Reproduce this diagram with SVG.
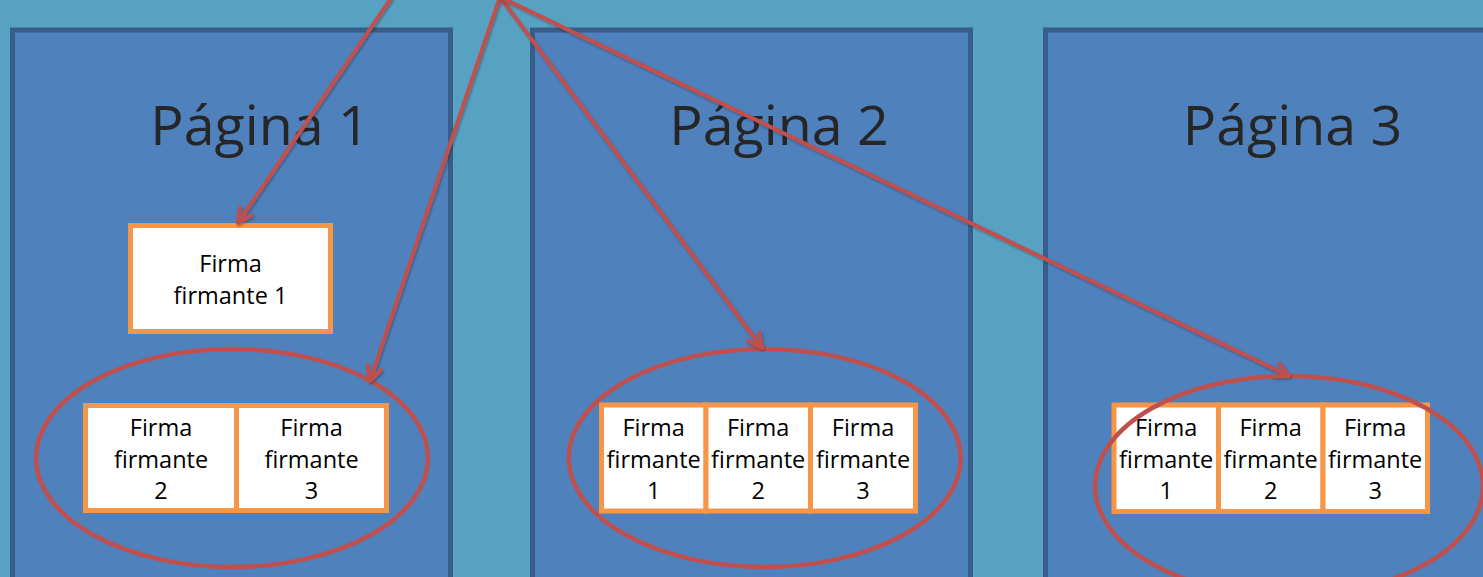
<svg xmlns="http://www.w3.org/2000/svg" width="1483" height="577" viewBox="0 0 1483 577">
  <style>
    .page { fill: #4f81bd; stroke: #385d8a; stroke-width: 5; }
    .ptitle { font-family: "Open Sans", "Liberation Sans", sans-serif; font-size: 55.5px; fill: #262626; text-anchor: middle; }
    .box { fill: #ffffff; stroke: #f79646; stroke-width: 5; }
    .btxt { font-family: "Open Sans", "Liberation Sans", sans-serif; font-size: 23.5px; fill: #000000; text-anchor: middle; }
    .ring { fill: none; stroke: #c0504d; stroke-width: 4.5; }
    .conn { fill: none; stroke: #c0504d; stroke-width: 4; marker-end: url(#arr); filter: url(#sh); }
  </style>
  <defs>
    <marker id="arr" markerUnits="userSpaceOnUse" viewBox="0 0 18 18" refX="16" refY="9" markerWidth="18" markerHeight="18" orient="auto">
      <path d="M2,2 L16,9 L2,16" fill="none" stroke="#c0504d" stroke-width="4" stroke-linejoin="miter" stroke-linecap="round"/>
    </marker>
    <filter id="sh" filterUnits="userSpaceOnUse" x="0" y="-10" width="1483" height="600">
      <feDropShadow dx="1" dy="1.5" stdDeviation="1" flood-color="#000" flood-opacity="0.3"/>
    </filter>
  </defs>
  <rect x="0" y="0" width="1483" height="577" fill="#57a2c3"/>

  <g id="page1">
    <rect class="page" x="12.5" y="30" width="438" height="570"/>
    <text class="ptitle" x="260" y="145">Página 1</text>
  </g>
  <g id="page2">
    <rect class="page" x="532.5" y="30" width="438" height="570"/>
    <text class="ptitle" x="779" y="145">Página 2</text>
  </g>
  <g id="page3">
    <rect class="page" x="1045.5" y="30" width="470" height="570"/>
    <text class="ptitle" x="1292.5" y="145">Página 3</text>
  </g>

  <g id="p1-firma1">
    <rect class="box" x="130.5" y="225.5" width="200" height="106"/>
    <text class="btxt" x="230.5" y="272">Firma</text>
    <text class="btxt" x="230.5" y="304">firmante 1</text>
  </g>
  <g id="p1-firma2">
    <rect class="box" x="85.5" y="405.5" width="151" height="105"/>
    <text class="btxt" x="161" y="436">Firma</text>
    <text class="btxt" x="161" y="467.5">firmante</text>
    <text class="btxt" x="161" y="499">2</text>
  </g>
  <g id="p1-firma3">
    <rect class="box" x="236.5" y="405.5" width="150" height="105"/>
    <text class="btxt" x="311.5" y="436">Firma</text>
    <text class="btxt" x="311.5" y="467.5">firmante</text>
    <text class="btxt" x="311.5" y="499">3</text>
  </g>

  <g id="p2-firma1">
    <rect class="box" x="601.5" y="405" width="104.5" height="106"/>
    <text class="btxt" x="653.7" y="436">Firma</text>
    <text class="btxt" x="653.7" y="467.5">firmante</text>
    <text class="btxt" x="653.7" y="499">1</text>
  </g>
  <g id="p2-firma2">
    <rect class="box" x="706" y="405" width="104.5" height="106"/>
    <text class="btxt" x="758.2" y="436">Firma</text>
    <text class="btxt" x="758.2" y="467.5">firmante</text>
    <text class="btxt" x="758.2" y="499">2</text>
  </g>
  <g id="p2-firma3">
    <rect class="box" x="810.5" y="405" width="105" height="106"/>
    <text class="btxt" x="863" y="436">Firma</text>
    <text class="btxt" x="863" y="467.5">firmante</text>
    <text class="btxt" x="863" y="499">3</text>
  </g>

  <g id="p3-firma1">
    <rect class="box" x="1114" y="405" width="104.5" height="106.5"/>
    <text class="btxt" x="1166.2" y="436">Firma</text>
    <text class="btxt" x="1166.2" y="467.5">firmante</text>
    <text class="btxt" x="1166.2" y="499">1</text>
  </g>
  <g id="p3-firma2">
    <rect class="box" x="1218.5" y="405" width="104.5" height="106.5"/>
    <text class="btxt" x="1270.7" y="436">Firma</text>
    <text class="btxt" x="1270.7" y="467.5">firmante</text>
    <text class="btxt" x="1270.7" y="499">2</text>
  </g>
  <g id="p3-firma3">
    <rect class="box" x="1323" y="405" width="104.5" height="106.5"/>
    <text class="btxt" x="1375.2" y="436">Firma</text>
    <text class="btxt" x="1375.2" y="467.5">firmante</text>
    <text class="btxt" x="1375.2" y="499">3</text>
  </g>

  <g id="group1"><ellipse class="ring" cx="232" cy="458" rx="196" ry="109"/></g>
  <g id="group2"><ellipse class="ring" cx="764.7" cy="458" rx="196" ry="109"/></g>
  <g id="group3"><ellipse class="ring" cx="1289" cy="486" rx="194" ry="110"/></g>

  <g id="connectors">
    <line class="conn" x1="392" y1="-3" x2="238" y2="223"/>
    <line class="conn" x1="500" y1="-3" x2="370" y2="381"/>
    <line class="conn" x1="500" y1="-3" x2="762" y2="348"/>
    <line class="conn" x1="500" y1="-3" x2="1289" y2="376"/>
  </g>
</svg>
